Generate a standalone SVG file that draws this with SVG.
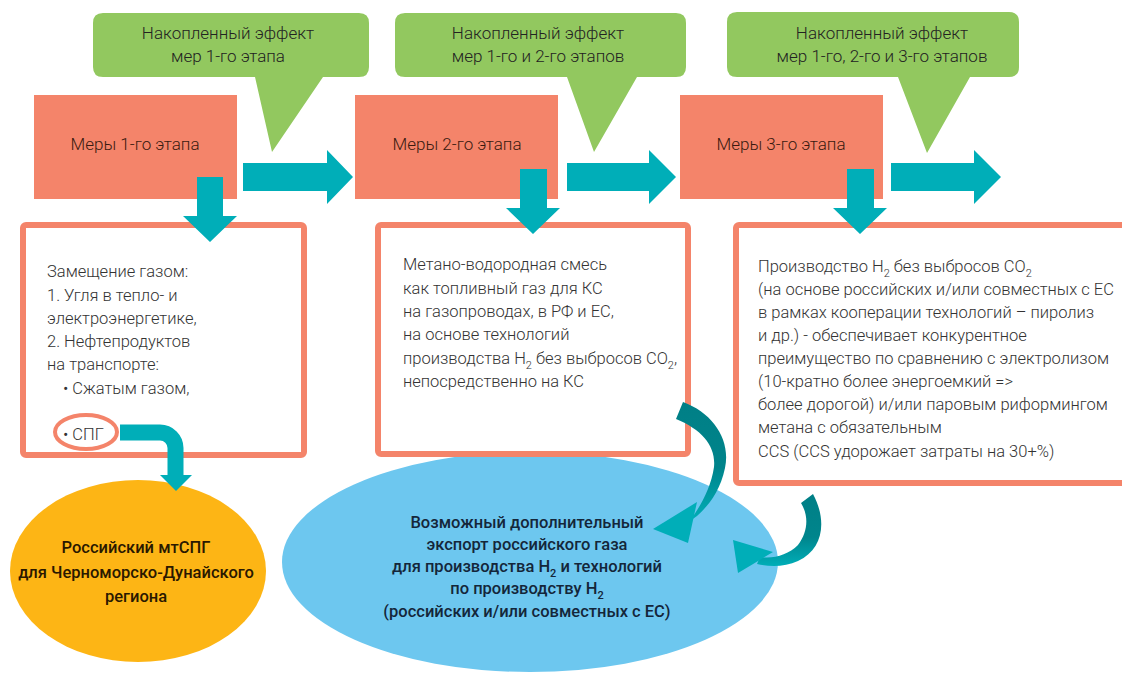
<svg xmlns="http://www.w3.org/2000/svg" width="1122" height="675" viewBox="0 0 1122 675">
<defs>
<style>
.callout{fill:#92C85F}
.stage{fill:#F4846A}
.arrow{fill:#00AEB8}
.box{fill:#fff;stroke:#F4846A;stroke-width:6}
.t{font-family:Roboto,"Liberation Sans",sans-serif;font-weight:300;font-size:16.5px;fill:#333}
.tc{font-family:Roboto,"Liberation Sans",sans-serif;font-weight:300;font-size:17px;fill:#222;text-anchor:middle}
.ts{font-family:Roboto,"Liberation Sans",sans-serif;font-weight:300;font-size:17px;fill:#3a1a10;text-anchor:middle}
.tb{font-family:Roboto,"Liberation Sans",sans-serif;font-weight:500;font-size:16.5px;text-anchor:middle}
.sub{font-size:11px}
</style>
<linearGradient id="g1" x1="0" y1="0" x2="0" y2="1">
<stop offset="0" stop-color="#007F86"/>
<stop offset="0.55" stop-color="#00848B"/>
<stop offset="1" stop-color="#00AEB8"/>
</linearGradient>
<linearGradient id="g2" x1="0" y1="0" x2="0" y2="1">
<stop offset="0" stop-color="#007F86"/>
<stop offset="0.6" stop-color="#00858C"/>
<stop offset="1" stop-color="#00AEB8"/>
</linearGradient>
</defs>

<g id="ellipse-export">
<ellipse cx="530" cy="562" rx="248" ry="110" fill="#6DC7EF"/>
<text class="tb" fill="#14263a"><tspan x="527" y="528">Возможный дополнительный</tspan><tspan x="527" y="550">экспорт российского газа</tspan><tspan x="527" y="572">для производства H<tspan class="sub" dy="5">2</tspan><tspan dy="-5"> и технологий</tspan></tspan><tspan x="527" y="594">по производству H<tspan class="sub" dy="5">2</tspan></tspan><tspan x="527" y="617">(российских и/или совместных с ЕС)</tspan></text>
</g>

<g id="ellipse-lng">
<ellipse cx="138" cy="571" rx="128" ry="91" fill="#FDB515"/>
<text class="tb" fill="#2a1800"><tspan x="136" y="553">Российский мтСПГ</tspan><tspan x="136" y="578">для Черноморско-Дунайского</tspan><tspan x="136" y="602">региона</tspan></text>
</g>

<g id="callout1">
<path class="callout" d="M103,13 H359 Q369,13 369,23 V67 Q369,77 359,77 H323 L272,152 L255,77 H103 Q93,77 93,67 V23 Q93,13 103,13 Z"/>
<text class="tc"><tspan x="228" y="39">Накопленный эффект</tspan><tspan x="228" y="62">мер 1-го этапа</tspan></text>
</g>
<g id="callout2">
<path class="callout" d="M405,13 H676 Q686,13 686,23 V67 Q686,77 676,77 H637 L594,152 L567,77 H405 Q395,77 395,67 V23 Q395,13 405,13 Z"/>
<text class="tc"><tspan x="538" y="39">Накопленный эффект</tspan><tspan x="538" y="62">мер 1-го и 2-го этапов</tspan></text>
</g>
<g id="callout3">
<path class="callout" d="M737,12 H1009 Q1019,12 1019,22 V67 Q1019,77 1009,77 H970 L927,153 L898,77 H737 Q727,77 727,67 V22 Q727,12 737,12 Z"/>
<text class="tc"><tspan x="882" y="39">Накопленный эффект</tspan><tspan x="882" y="62">мер 1-го, 2-го и 3-го этапов</tspan></text>
</g>

<g id="stage1">
<rect class="stage" x="34" y="95" width="203" height="104"/>
<text class="ts" x="135" y="150">Меры 1-го этапа</text>
</g>
<g id="stage2">
<rect class="stage" x="355" y="95" width="203" height="104"/>
<text class="ts" x="457" y="150">Меры 2-го этапа</text>
</g>
<g id="stage3">
<rect class="stage" x="680" y="95" width="203" height="104"/>
<text class="ts" x="781" y="150">Меры 3-го этапа</text>
</g>

<g id="box1">
<rect class="box" x="23" y="225" width="281" height="230" rx="3"/>
<text class="t"><tspan x="47" y="277">Замещение газом:</tspan><tspan x="47" y="301">1. Угля в тепло- и</tspan><tspan x="47" y="324">электроэнергетике,</tspan><tspan x="47" y="347">2. Нефтепродуктов</tspan><tspan x="47" y="370">на транспорте:</tspan><tspan x="63" y="394">• Сжатым газом,</tspan></text>
<ellipse cx="86" cy="432" rx="31" ry="17" fill="#fff" stroke="#F4846A" stroke-width="4"/>
<text class="t" x="63" y="440">• СПГ</text>
</g>

<g id="box2">
<rect class="box" x="378" y="225" width="310" height="229" rx="3"/>
<text class="t"><tspan x="403" y="270">Метано-водородная смесь</tspan><tspan x="403" y="294">как топливный газ для КС</tspan><tspan x="403" y="317">на газопроводах, в РФ и ЕС,</tspan><tspan x="403" y="340">на основе технологий</tspan><tspan x="403" y="364">производства H<tspan class="sub" dy="5">2</tspan><tspan dy="-5"> без выбросов CO</tspan><tspan class="sub" dy="5">2</tspan><tspan dy="-5">,</tspan></tspan><tspan x="403" y="387">непосредственно на КС</tspan></text>
</g>

<g id="box3">
<rect class="box" x="736" y="225" width="400" height="258" rx="3"/>
<text class="t"><tspan x="758" y="272">Производство H<tspan class="sub" dy="5">2</tspan><tspan dy="-5"> без выбросов CO</tspan><tspan class="sub" dy="5">2</tspan></tspan><tspan x="758" y="295">(на основе российских и/или совместных с ЕС</tspan><tspan x="758" y="318">в рамках кооперации технологий – пиролиз</tspan><tspan x="758" y="341">и др.) - обеспечивает  конкурентное</tspan><tspan x="758" y="364">преимущество по сравнению с электролизом</tspan><tspan x="758" y="387">(10-кратно более энергоемкий =&gt;</tspan><tspan x="758" y="410">более дорогой) и/или паровым риформингом</tspan><tspan x="758" y="433">метана с обязательным</tspan><tspan x="758" y="457">CCS (CCS удорожает затраты на 30+%)</tspan></text>
</g>

<g id="connectors">
<polygon class="arrow" points="243,163 327,163 327,150 353,177 327,204 327,191 243,191"/>
<polygon class="arrow" points="567,163 649,163 649,150 676,177 649,204 649,191 567,191"/>
<polygon class="arrow" points="891,163 974,163 974,150 1001,177 974,204 974,191 891,191"/>
<polygon class="arrow" points="197,177 223,177 223,216 237,216 210,242 183,216 197,216"/>
<polygon class="arrow" points="520,169 547,169 547,208 560,208 533,234 506,208 520,208"/>
<polygon class="arrow" points="847,169 874,169 874,208 887,208 860,234 833,208 847,208"/>
<path d="M120,432.5 H160 A15.5,15.5 0 0 1 175.5,448 V476" fill="none" stroke="#00AEB8" stroke-width="16"/>
<polygon class="arrow" points="160,475 192,475 176,491"/>
<path fill="url(#g1)" d="M676,419 L683,402 C713,413 731,440 725,468 C720,492 708,506 697,516 L690,521 C701,505 711,488 714,467 C716,447 703,430 676,419 Z"/>
<polygon class="arrow" points="653,529 697,502 688,543"/>
<path fill="url(#g2)" d="M801,503 L813,494 C827,520 824,549 798,561 C785,567 770,567 757,564 L760,557 C774,559 788,555 798,545 C808,532 809,516 801,503 Z"/>
<polygon class="arrow" points="733,540 773,552 738,573"/>
</g>
</svg>
